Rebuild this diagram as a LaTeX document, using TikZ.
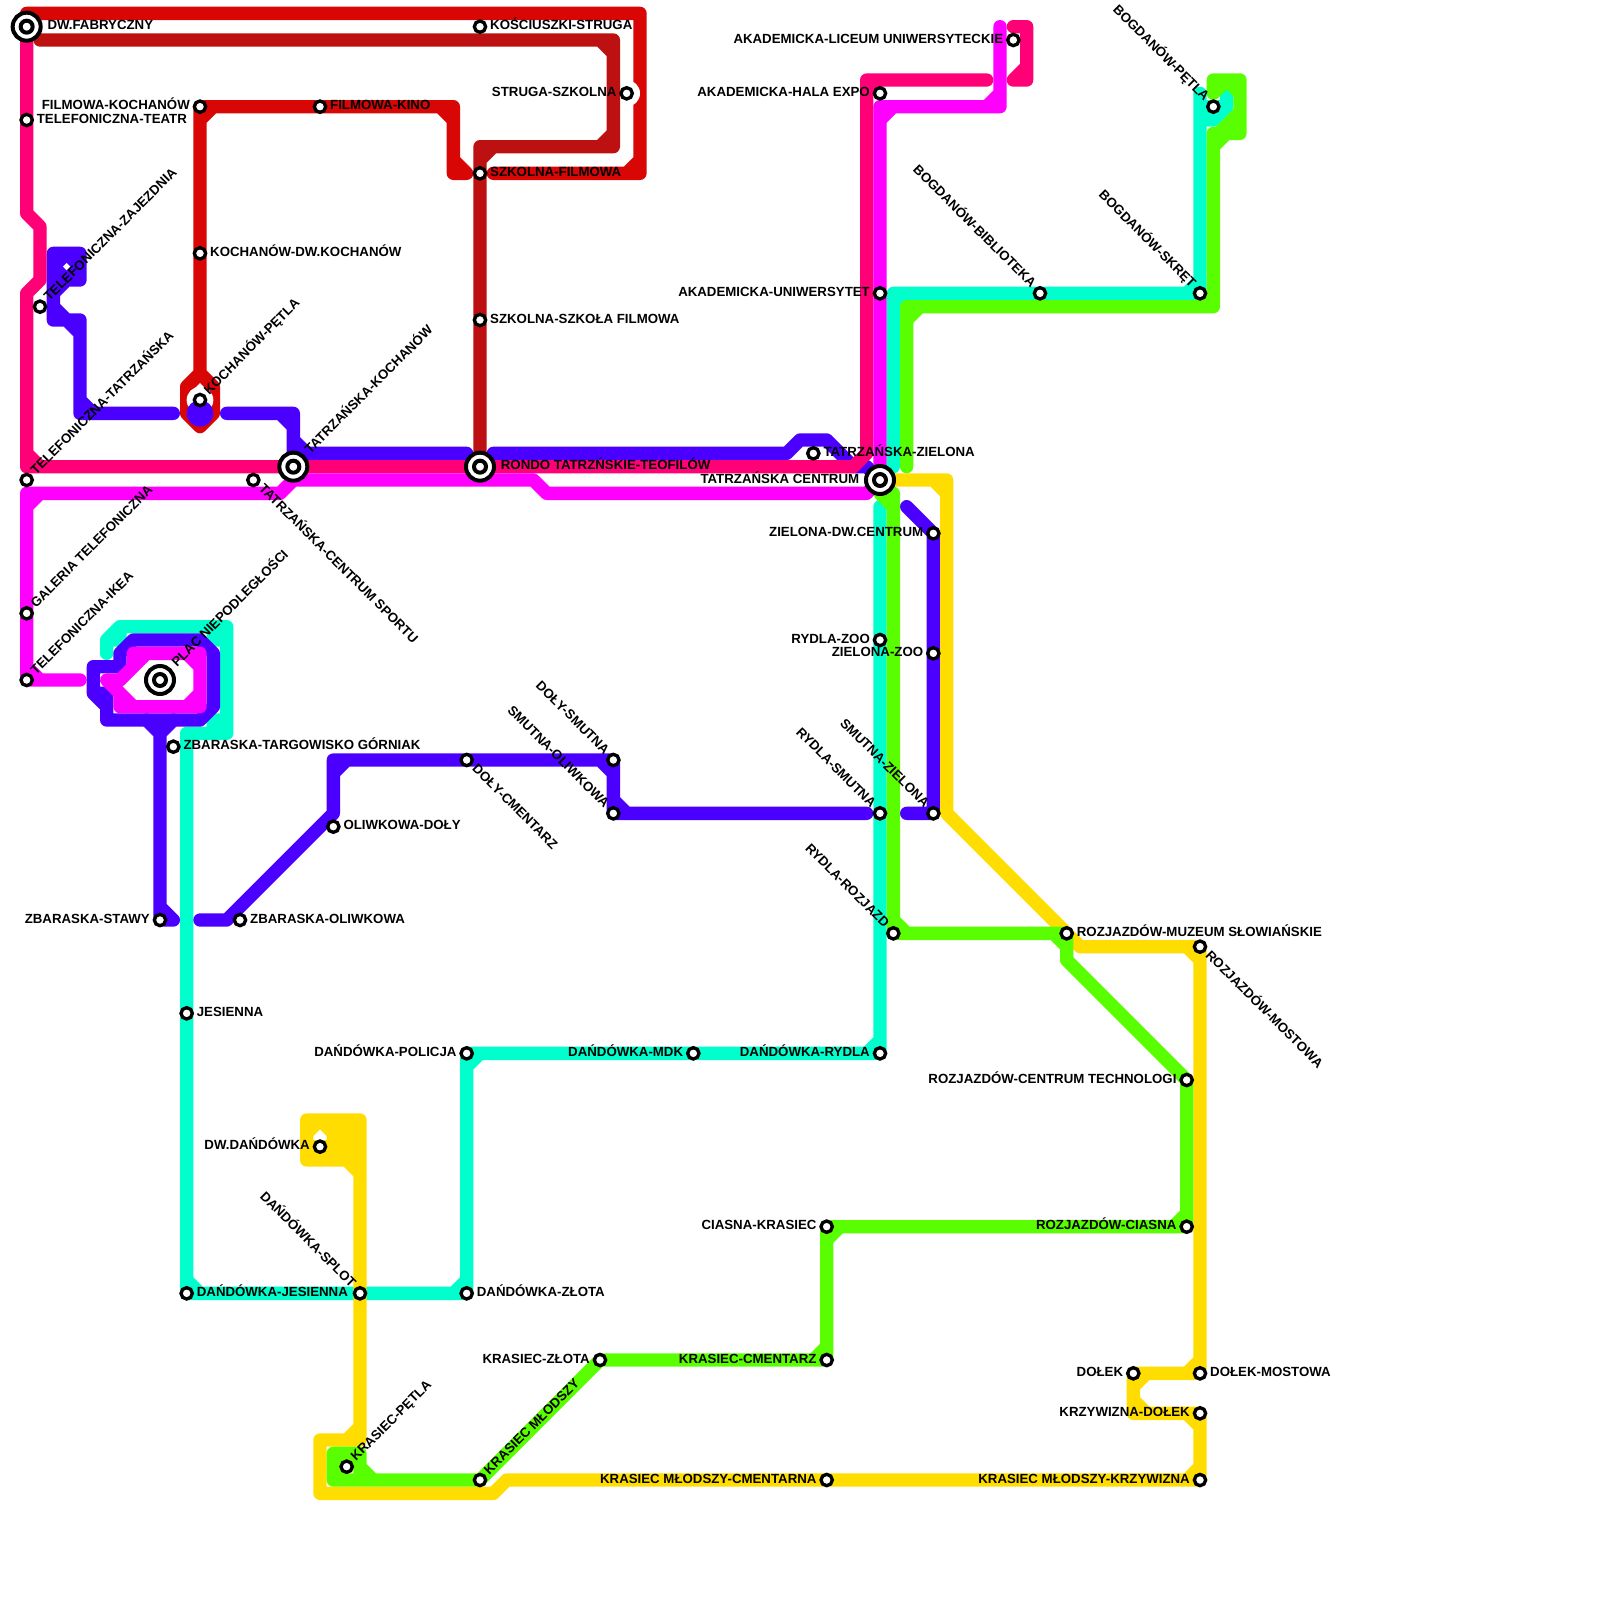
\documentclass[tikz,border=0pt]{standalone}
\usepackage{fontspec}
\setmainfont{Liberation Sans}
\usepackage{tikz}

\begin{document}
\begin{tikzpicture}[
    x=5mm, y=-5mm,
    metro/.style={line width=5mm, line cap=round, line join=round},
    stop/.style={circle, draw=black, fill=white, line width=1.25mm, minimum size=4.25mm, inner sep=0pt},
    hub/.style={circle, draw=black, fill=white, line width=1.5mm, minimum size=10.5mm, inner sep=0pt,
        path picture={\draw[line width=1.5mm] (path picture bounding box.center) circle (2.25mm);}},
    lbl/.style={font=\fontsize{14.15}{16}\selectfont\bfseries, inner sep=0pt, text=black},
    lblR/.style={lbl, anchor=base west, xshift=3.75mm, yshift=-1.2mm},
    lblL/.style={lbl, anchor=base east, xshift=-3.75mm, yshift=-1.2mm},
    lblUR/.style={lbl, anchor=base west, rotate=45, xshift=3.75mm, yshift=-1.2mm},
    lblDR/.style={lbl, anchor=base west, rotate=-45, xshift=3.75mm, yshift=-1.2mm},
    lblUL/.style={lbl, anchor=base east, rotate=-45, xshift=-3.75mm, yshift=-1.2mm}
]
% Define colors
\definecolor{lineRed}{RGB}{217,6,6}
\definecolor{lineDark}{RGB}{189,16,16}
\definecolor{lineAqua}{RGB}{0,255,204}
\definecolor{lineBlue}{RGB}{75,0,255}
\definecolor{linePink}{RGB}{255,0,119}
\definecolor{lineMag}{RGB}{255,0,255}
\definecolor{lineYel}{RGB}{255,221,0}
\definecolor{lineGreen}{RGB}{89,255,0}

\useasboundingbox (0,0) rectangle (120,120);

% Red lines
\draw[metro, lineRed] (2,1) -- (48,1) -- (48,13) -- (37,13) (48,12) -- (47,13);
\draw[metro, lineRed] (35,13) -- (34,13) -- (34,8) -- (15,8) -- (15,28) -- (14,29) -- (14,31) -- (15,32) -- (16,31) -- (16,29) -- (15,28)
    (34,12) -- (35,13) (33,8) -- (34,9) (15,9) -- (16,8);

% White gaps round two stops
\fill[white] (15,30) circle (1);
\fill[white] (47,7) circle (1);

% Dark red line
\draw[metro, lineDark] (3,3) -- (46,3) -- (46,11) -- (36,11) -- (36,35)
    (45,3) -- (46,4) (46,10) -- (45,11) (37,11) -- (36,12);

% Aqua lines
\draw[metro, lineAqua] (8,49) -- (8,48) -- (9,47) -- (17,47) -- (17,55) -- (14,55) -- (14,97) -- (35,97) -- (35,79) -- (66,79) -- (66,38)
    (14,96) -- (15,97) (34,97) -- (35,96) (35,80) -- (36,79) (65,79) -- (66,78)
    (16,47) -- (16,48) -- (17,48) (16,55) -- (16,54) -- (17,54) (8,48) -- (9,48) -- (9,47);
\draw[metro, lineAqua] (67,35) -- (67,22) -- (90,22) -- (90,7) (67,23) -- (68,22) (89,22) -- (90,21)
    (90,9) -- (91,9) -- (92,8) -- (92,7) (90,8) -- (92,8);

% Blue line, Telefoniczna part
\draw[metro, lineBlue] (13,31) -- (6,31) -- (6,24) -- (4,24) -- (4,19) -- (6,19) -- (6,21) -- (5,21) -- (4,22)
    (6,30) -- (7,31) (5,24) -- (6,25) (4,23) -- (5,24)
    (4,20) -- (5,19) (5,19) -- (6,20) (6,20) -- (5,21) (5,21) -- (4,20);
\fill[lineBlue] (15,31) circle (1);
\draw[metro, lineBlue] (17,31) -- (22,31) -- (22,34) -- (35,34) (21,31) -- (22,32) (22,33) -- (23,34);
\draw[metro, lineBlue] (37,34) -- (59,34) -- (60,33) -- (62,33) -- (64,35) -- (65,35) -- (66,36);
% Blue line, loop and Zbaraska
\draw[metro, lineBlue] (9,50) -- (9,49) -- (10,48) -- (15,48) -- (16,49) -- (16,53) -- (15,54) -- (8,54) -- (8,53) -- (7,52) -- (7,50) -- cycle
    (7,52) -- (8,52) -- (8,53);
\draw[metro, lineBlue] (11,54) -- (12,55) -- (13,54) (12,55) -- (12,69) -- (13,69) (12,68) -- (13,69);
\draw[metro, lineBlue] (15,69) -- (17,69) -- (25,61) -- (25,57) -- (46,57) -- (46,61) -- (65,61)
    (25,58) -- (26,57) (45,57) -- (46,58) (46,60) -- (47,61);
\draw[metro, lineBlue] (68,61) -- (70,61) -- (70,40) -- (68,38);

% Pink line
\draw[metro, linePink] (2,2) -- (2,16) -- (3,17) -- (3,21) -- (2,22) -- (2,35) -- (64,35) -- (65,34) -- (65,6) -- (74,6)
    (2,34) -- (3,35) (65,7) -- (66,6);
\draw[metro, linePink] (76,2) -- (77,2) -- (77,6) -- (76,6) (77,5) -- (76,6);

% Magenta line
\draw[metro, lineMag] (6,51) -- (2,51) -- (2,37) -- (21,37) -- (22,36) -- (40,36) -- (41,37) -- (65,37) -- (66,36) -- (66,8) -- (75,8) -- (75,2)
    (2,38) -- (3,37) (2,50) -- (3,51) (66,9) -- (67,8) (74,8) -- (75,7);
\draw[metro, lineMag] (8,51) -- (9,51) -- (10,50) -- (10,49) -- (15,49) -- (15,53) -- (9,53) -- (9,52) -- cycle
    (14,49) -- (15,50) (15,52) -- (14,53) (9,52) -- (10,53) (10,50) -- (11,49);

% Yellow line
\draw[metro, lineYel] (67,36) -- (71,36) -- (71,61) -- (81,71) -- (90,71) -- (90,103) -- (85,103) -- (85,106) -- (90,106) -- (90,111)
    -- (38,111) -- (37,112) -- (24,112) -- (24,108) -- (27,108) -- (27,84) -- (23,84) -- (23,87) -- (26,87) -- (27,88)
    (70,36) -- (71,37) (89,71) -- (90,72) (89,103) -- (90,102) (85,104) -- (86,103) (85,105) -- (86,106)
    (89,106) -- (90,107) (89,111) -- (90,110) (26,108) -- (27,107)
    (23,85) -- (24,84) -- (25,85) (25,84) -- (25,87) (26,84) -- (26,87) (23,86) -- (25,86);

% Green line
\draw[metro, lineGreen] (67,37) -- (66,37) -- (67,38) -- (67,70) -- (80,70) -- (80,72) -- (89,81) -- (89,92) -- (62,92) -- (62,102) -- (45,102)
    -- (36,111) -- (25,111) -- (25,109) -- (27,109) -- (27,111)
    (67,37) -- (67,38) (67,69) -- (68,70) (79,70) -- (80,71) (89,91) -- (88,92) (62,93) -- (63,92) (61,102) -- (62,101)
    (25,110) -- (26,109) -- (27,110) -- (28,111) (26,111) -- (25,110);
\draw[metro, lineGreen] (68,35) -- (68,23) -- (91,23) -- (91,10) -- (93,10) -- (93,6) -- (91,6) -- (91,7)
    (68,24) -- (69,23) (90,23) -- (91,22) (91,11) -- (92,10) (93,7) -- (92,6) -- (91,7);
\fill[lineGreen] (92.6,8.1) -- (91.2,9.5) -- (93,10) -- cycle;

% Hubs
\node[hub] (fabryczny) at (2,2) {};
\node[hub] (plac) at (12,51) {};
\node[hub] (kochanow) at (22,35) {};
\node[hub] (rondo) at (36,35) {};
\node[hub] (centrum) at (66,36) {};
\node[lblR, xshift=4mm] (fabrycznyT) at (fabryczny) {DW.FABRYCZNY};
\node[lblUR, xshift=4mm] (placT) at (plac) {PLAC NIEPODLEGŁOŚCI};
\node[lblUR, xshift=4mm] (kochanowT) at (kochanow) {TATRZAŃSKA-KOCHANÓW};
\node[lblR, xshift=4mm] (rondoT) at (rondo) {RONDO TATRZŃSKIE-TEOFILÓW};
\node[lblL, xshift=-4mm] (centrumT) at (centrum) {TATRZAŃSKA CENTRUM};

% Telefoniczna
\node[stop] (teatr) at (2,9) {};
\node[lblR] (teatrT) at (teatr) {TELEFONICZNA-TEATR};
\node[stop] (zajezdnia) at (3,23) {};
\node[lblUR] (zajezdniaT) at (zajezdnia) {TELEFONICZNA-ZAJEZDNIA};
\node[stop] (tatrzanska) at (2,36) {};
\node[lblUR] (tatrzanskaT) at (tatrzanska) {TELEFONICZNA-TATRZAŃSKA};
\node[stop] (galeria) at (2,46) {};
\node[lblUR] (galeriaT) at (galeria) {GALERIA TELEFONICZNA};
\node[stop] (ikea) at (2,51) {};
\node[lblUR] (ikeaT) at (ikea) {TELEFONICZNA-IKEA};
\node[stop] (sportu) at (19,36) {};
\node[lblDR] (sportuT) at (sportu) {TATRZAŃSKA-CENTRUM SPORTU};

% Zbaraska and Oliwkowa
\node[stop] (targowisko) at (13,56) {};
\node[lblR] (targowiskoT) at (targowisko) {ZBARASKA-TARGOWISKO GÓRNIAK};
\node[stop] (stawy) at (12,69) {};
\node[lblL] (stawyT) at (stawy) {ZBARASKA-STAWY};
\node[stop] (zbolw) at (18,69) {};
\node[lblR] (zbolwT) at (zbolw) {ZBARASKA-OLIWKOWA};
\node[stop] (jesienna) at (14,76) {};
\node[lblR] (jesiennaT) at (jesienna) {JESIENNA};
\node[stop] (oldoly) at (25,62) {};
\node[lblR] (oldolyT) at (oldoly) {OLIWKOWA-DOŁY};

% Doly and Smutna
\node[stop] (cmentarz) at (35,57) {};
\node[lblDR] (cmentarzT) at (cmentarz) {DOŁY-CMENTARZ};
\node[stop] (dolsm) at (46,57) {};
\node[lblUL] (dolsmT) at (dolsm) {DOŁY-SMUTNA};
\node[stop] (smolw) at (46,61) {};
\node[lblUL] (smolwT) at (smolw) {SMUTNA-OLIWKOWA};
\node[stop] (rydsm) at (66,61) {};
\node[lblUL] (rydsmT) at (rydsm) {RYDLA-SMUTNA};
\node[stop] (smziel) at (70,61) {};
\node[lblUL] (smzielT) at (smziel) {SMUTNA-ZIELONA};

% Rydla and Zielona
\node[stop] (rydzoo) at (66,48) {};
\node[lblL] (rydzooT) at (rydzoo) {RYDLA-ZOO};
\node[stop] (zielzoo) at (70,49) {};
\node[lblL] (zielzooT) at (zielzoo) {ZIELONA-ZOO};
\node[stop] (zieldw) at (70,40) {};
\node[lblL] (zieldwT) at (zieldw) {ZIELONA-DW.CENTRUM};
\node[stop] (tatziel) at (61,34) {};
\node[lblR] (tatzielT) at (tatziel) {TATRZAŃSKA-ZIELONA};
\node[stop] (rydroz) at (67,70) {};
\node[lblUL] (rydrozT) at (rydroz) {RYDLA-ROZJAZD};

% Kochanow and Filmowa
\node[stop] (kpetla) at (15,30) {};
\node[lblUR] (kpetlaT) at (kpetla) {KOCHANÓW-PĘTLA};
\node[stop] (kdw) at (15,19) {};
\node[lblR] (kdwT) at (kdw) {KOCHANÓW-DW.KOCHANÓW};
\node[stop] (filkoch) at (15,8) {};
\node[lblL] (filkochT) at (filkoch) {FILMOWA-KOCHANÓW};
\node[stop] (filkino) at (24,8) {};
\node[lblR] (filkinoT) at (filkino) {FILMOWA-KINO};

% Struga and Szkolna
\node[stop] (kosc) at (36,2) {};
\node[lblR] (koscT) at (kosc) {KOŚCIUSZKI-STRUGA};
\node[stop] (struga) at (47,7) {};
\node[lblL] (strugaT) at (struga) {STRUGA-SZKOLNA};
\node[stop] (szkfil) at (36,13) {};
\node[lblR] (szkfilT) at (szkfil) {SZKOLNA-FILMOWA};
\node[stop] (szkszk) at (36,24) {};
\node[lblR] (szkszkT) at (szkszk) {SZKOLNA-SZKOŁA FILMOWA};

% Akademicka and Bogdanow
\node[stop] (liceum) at (76,3) {};
\node[lblL] (liceumT) at (liceum) {AKADEMICKA-LICEUM UNIWERSYTECKIE};
\node[stop] (hala) at (66,7) {};
\node[lblL] (halaT) at (hala) {AKADEMICKA-HALA EXPO};
\node[stop] (uniw) at (66,22) {};
\node[lblL] (uniwT) at (uniw) {AKADEMICKA-UNIWERSYTET};
\node[stop] (bibl) at (78,22) {};
\node[lblUL] (biblT) at (bibl) {BOGDANÓW-BIBLIOTEKA};
\node[stop] (skret) at (90,22) {};
\node[lblUL] (skretT) at (skret) {BOGDANÓW-SKRĘT};
\node[stop] (bpetla) at (91,8) {};
\node[lblUL] (bpetlaT) at (bpetla) {BOGDANÓW-PĘTLA};

% Rozjazdow
\node[stop] (muzeum) at (80,70) {};
\node[lblR] (muzeumT) at (muzeum) {ROZJAZDÓW-MUZEUM SŁOWIAŃSKIE};
\node[stop] (rozmost) at (90,71) {};
\node[lblDR] (rozmostT) at (rozmost) {ROZJAZDÓW-MOSTOWA};
\node[stop] (techn) at (89,81) {};
\node[lblL] (technT) at (techn) {ROZJAZDÓW-CENTRUM TECHNOLOGI};
\node[stop] (rozcia) at (89,92) {};
\node[lblL] (rozciaT) at (rozcia) {ROZJAZDÓW-CIASNA};

% Krasiec
\node[stop] (ciakra) at (62,92) {};
\node[lblL] (ciakraT) at (ciakra) {CIASNA-KRASIEC};
\node[stop] (kracm) at (62,102) {};
\node[lblL] (kracmT) at (kracm) {KRASIEC-CMENTARZ};
\node[stop] (krazl) at (45,102) {};
\node[lblL] (krazlT) at (krazl) {KRASIEC-ZŁOTA};
\node[stop] (mlodszy) at (36,111) {};
\node[lblUR] (mlodszyT) at (mlodszy) {KRASIEC MŁODSZY};
\node[stop] (cmentarna) at (62,111) {};
\node[lblL] (cmentarnaT) at (cmentarna) {KRASIEC MŁODSZY-CMENTARNA};
\node[stop] (mlkrz) at (90,111) {};
\node[lblL] (mlkrzT) at (mlkrz) {KRASIEC MŁODSZY-KRZYWIZNA};
\node[stop] (krapetla) at (26,110) {};
\node[lblUR] (krapetlaT) at (krapetla) {KRASIEC-PĘTLA};

% Dolek
\node[stop] (krzdol) at (90,106) {};
\node[lblL] (krzdolT) at (krzdol) {KRZYWIZNA-DOŁEK};
\node[stop] (dolek) at (85,103) {};
\node[lblL] (dolekT) at (dolek) {DOŁEK};
\node[stop] (dolmost) at (90,103) {};
\node[lblR] (dolmostT) at (dolmost) {DOŁEK-MOSTOWA};

% Dandowka
\node[stop] (policja) at (35,79) {};
\node[lblL] (policjaT) at (policja) {DAŃDÓWKA-POLICJA};
\node[stop] (mdk) at (52,79) {};
\node[lblL] (mdkT) at (mdk) {DAŃDÓWKA-MDK};
\node[stop] (danryd) at (66,79) {};
\node[lblL] (danrydT) at (danryd) {DAŃDÓWKA-RYDLA};
\node[stop] (danzl) at (35,97) {};
\node[lblR] (danzlT) at (danzl) {DAŃDÓWKA-ZŁOTA};
\node[stop] (splot) at (27,97) {};
\node[lblUL] (splotT) at (splot) {DAŃDÓWKA-SPLOT};
\node[stop] (danjes) at (14,97) {};
\node[lblR] (danjesT) at (danjes) {DAŃDÓWKA-JESIENNA};
\node[stop] (dwdan) at (24,86) {};
\node[lblL] (dwdanT) at (dwdan) {DW.DAŃDÓWKA};

\end{tikzpicture}
\end{document}
